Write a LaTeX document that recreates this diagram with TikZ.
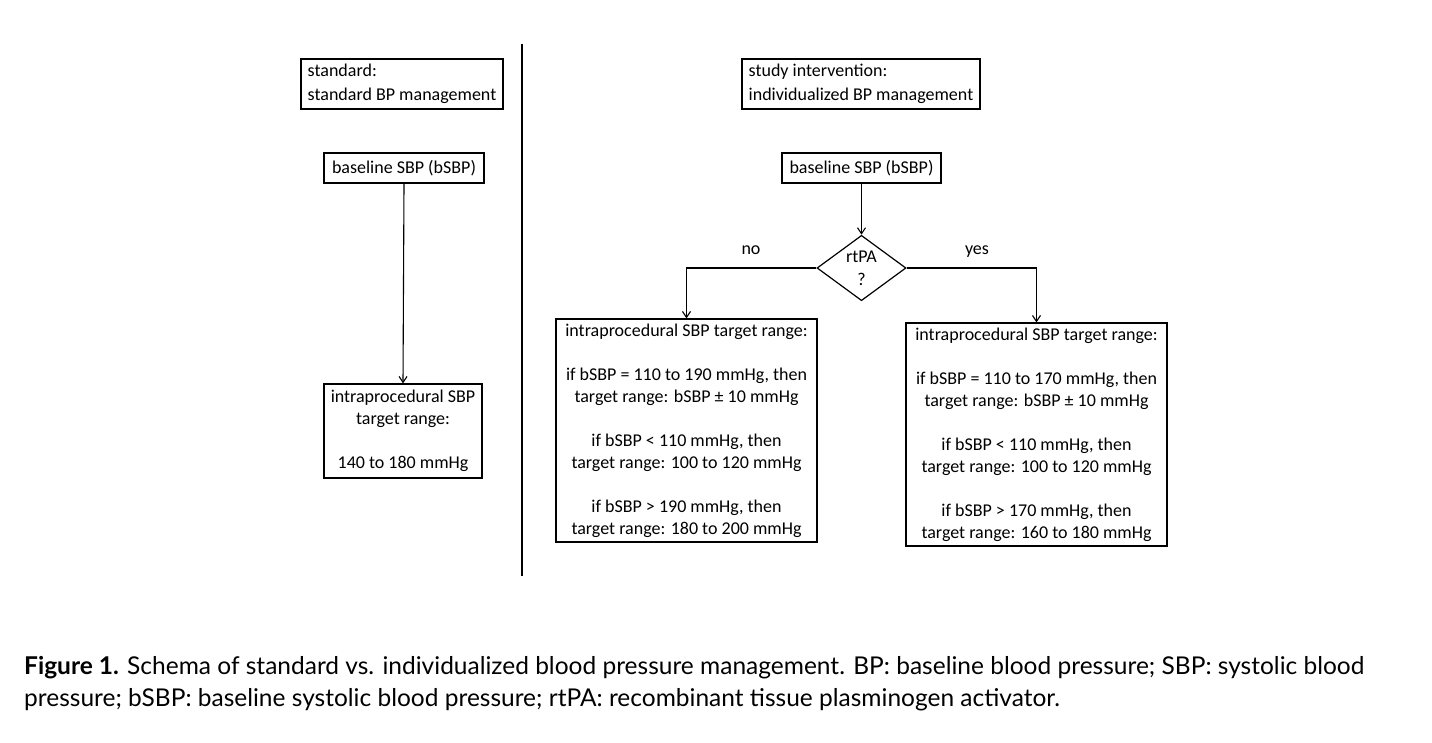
\documentclass[tikz,border=0pt]{standalone}
\usepackage{fontspec}
\setmainfont{Carlito}
\newfontfamily\capfont{Lato}
\usetikzlibrary{arrows.meta,shapes.geometric}
\begin{document}
\begin{tikzpicture}[x=1pt,y=-1pt,
  box/.style={draw,line width=1.2pt,inner sep=0pt,font=\fontsize{18}{22}\selectfont},
  conn/.style={line width=1.1pt,-{Straight Barb[length=6pt,width=8pt]}},
  lbl/.style={font=\fontsize{18}{22}\selectfont,anchor=base,inner sep=0pt}]
\useasboundingbox (0,0) rectangle (1432,743);
\draw[line width=1.2pt] (522,44) -- (522,576);
% left column
\node[box,minimum width=202pt,minimum height=50pt,align=left,font=\fontsize{18}{24}\selectfont] (std) at (402,84) {standard:\\standard BP management};
\node[box,minimum width=160pt,minimum height=30pt] (lbase) at (404,168) {baseline SBP (bSBP)};
\node[box,minimum width=158pt,minimum height=94pt,align=center] (lint) at (403,431) {intraprocedural SBP\\target range:\\[22pt]140 to 180 mmHg};
\draw[conn] (lbase.south) -- (lint.north);
% right column
\node[box,minimum width=238pt,minimum height=50pt,align=left,font=\fontsize{18}{24}\selectfont] (stu) at (861,84) {study intervention:\\individualized BP management};
\node[box,minimum width=159pt,minimum height=30pt] (rbase) at (861.5,168) {baseline SBP (bSBP)};
\node[draw,line width=1.2pt,diamond,minimum width=89pt,minimum height=60pt,inner sep=0pt,align=center,font=\fontsize{18}{23}\selectfont] (dec) at (861.5,268) {rtPA\\?};
\draw[conn] (rbase.south) -- (dec.north);
\node[box,minimum width=261pt,minimum height=223pt,align=center] (nobox) at (686.5,430.5) {intraprocedural SBP target range:\\[22pt]if bSBP = 110 to 190 mmHg, then\\target range: bSBP ± 10 mmHg\\[22pt]if bSBP < 110 mmHg, then\\target range: 100 to 120 mmHg\\[22pt]if bSBP > 190 mmHg, then\\target range: 180 to 200 mmHg};
\node[box,minimum width=261pt,minimum height=223pt,align=center] (yesbox) at (1036.5,434.5) {intraprocedural SBP target range:\\[22pt]if bSBP = 110 to 170 mmHg, then\\target range: bSBP ± 10 mmHg\\[22pt]if bSBP < 110 mmHg, then\\target range: 100 to 120 mmHg\\[22pt]if bSBP > 170 mmHg, then\\target range: 160 to 180 mmHg};
\draw[conn] (dec.west) -| (nobox.north);
\draw[conn] (dec.east) -| (yesbox.north);
\node[lbl] (nolbl) at (751,255) {no};
\node[lbl] (yeslbl) at (977,255) {yes};
% caption
\node[anchor=north west,inner sep=0pt,align=left,font=\capfont\fontsize{24.5}{32}\selectfont] (cap) at (24,656) {\textbf{Figure 1.} Schema of standard vs. individualized blood pressure management. BP: baseline blood pressure; SBP: systolic blood\\pressure; bSBP: baseline systolic blood pressure; rtPA: recombinant tissue plasminogen activator.};
\end{tikzpicture}
\end{document}
